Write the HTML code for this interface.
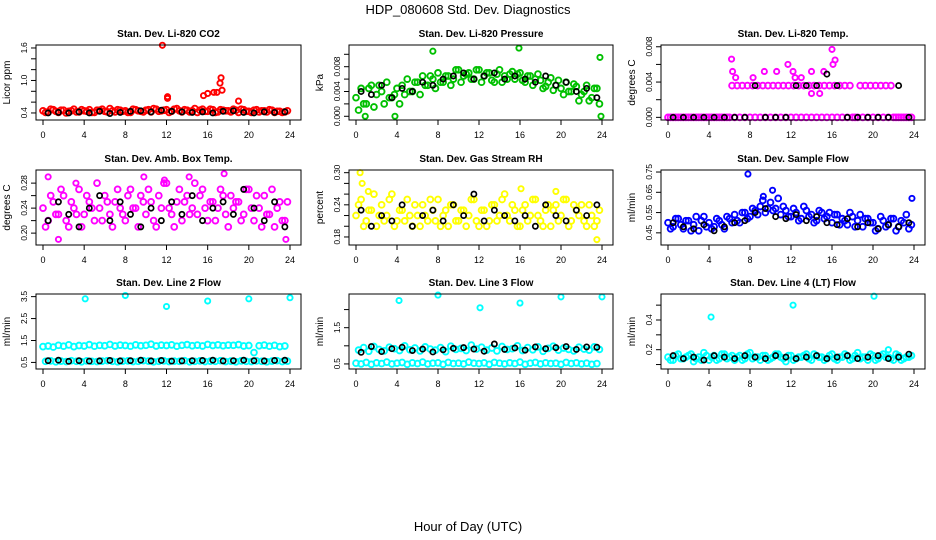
<!DOCTYPE html>
<html><head><meta charset="utf-8"><style>
html,body{margin:0;padding:0;background:#fff;}
svg{display:block;font-family:"Liberation Sans",sans-serif;}
</style></head><body>
<svg id="chart" width="936" height="540" viewBox="0 0 936 540">
<text x="468" y="14" text-anchor="middle" font-size="13">HDP_080608  Std. Dev. Diagnostics</text>
<text x="468" y="531" text-anchor="middle" font-size="13">Hour of Day (UTC)</text>
</svg>
<script>
const HX=[0,0.5,1,1.5,2,2.5,3,3.5,4,4.5,5,5.5,6,6.5,7,7.5,8,8.5,9,9.5,10,10.5,11,11.5,12,12.5,13,13.5,14,14.5,15,15.5,16,16.5,17,17.5,18,18.5,19,19.5,20,20.5,21,21.5,22,22.5,23,23.5];
const BX=[0.5,1.5,2.5,3.5,4.5,5.5,6.5,7.5,8.5,9.5,10.5,11.5,12.5,13.5,14.5,15.5,16.5,17.5,18.5,19.5,20.5,21.5,22.5,23.5];
const xTicks=[0,4,8,12,16,20,24];

const co2A=[0.44,0.42,0.46,0.41,0.45,0.43,0.47,0.42,0.44,0.46,0.41,0.45,0.43,0.48,0.42,0.45,0.44,0.41,0.46,0.43,0.45,0.42,0.47,0.44,0.46,0.43,0.48,0.42,0.45,0.44,0.41,0.47,0.43,0.46,0.42,0.45,0.44,0.47,0.41,0.46,0.43,0.45,0.42,0.44,0.46,0.41,0.43,0.42];
const co2B=[0.41,0.47,0.43,0.45,0.40,0.44,0.42,0.46,0.43,0.41,0.45,0.47,0.42,0.44,0.46,0.43,0.41,0.47,0.44,0.42,0.46,0.48,0.43,0.45,0.41,0.47,0.44,0.46,0.42,0.48,0.45,0.43,0.47,0.41,0.46,0.44,0.42,0.45,0.47,0.43,0.41,0.46,0.44,0.42,0.45,0.43,0.41,0.44];
const co2K=[0.40,0.41,0.40,0.42,0.40,0.43,0.39,0.41,0.43,0.44,0.42,0.45,0.43,0.42,0.41,0.42,0.40,0.43,0.44,0.41,0.40,0.42,0.41,0.42];
const co2OX=[11.6,12.1,12.1,15.6,16.0,16.6,16.9,17.2,17.3,17.4,19.0];
const co2OY=[1.65,0.70,0.67,0.72,0.76,0.78,0.78,0.95,1.05,0.82,0.62];

const prsA=[0.003,0.0045,0.002,0.005,0.0035,0.004,0.0055,0.003,0.0045,0.005,0.006,0.004,0.0055,0.0065,0.005,0.006,0.007,0.0055,0.0065,0.006,0.0075,0.0065,0.007,0.006,0.0075,0.0065,0.007,0.0055,0.0075,0.0065,0.0068,0.006,0.007,0.0055,0.0065,0.006,0.0058,0.0048,0.0062,0.005,0.0045,0.0055,0.004,0.0048,0.0035,0.005,0.003,0.0045];
const prsB=[0.001,0.002,0.0045,0.0015,0.005,0.002,0.003,0.0035,0.002,0.0035,0.004,0.0055,0.0035,0.005,0.0065,0.0045,0.0055,0.0065,0.005,0.0075,0.0055,0.0068,0.006,0.0075,0.0055,0.007,0.0058,0.0068,0.0055,0.006,0.0072,0.0068,0.0058,0.0065,0.005,0.0068,0.0045,0.0055,0.0042,0.0058,0.0035,0.004,0.0052,0.0025,0.004,0.0025,0.0045,0.002];
const prsK=[0.004,0.0035,0.005,0.003,0.0045,0.004,0.0055,0.005,0.006,0.0065,0.007,0.006,0.0065,0.007,0.006,0.0065,0.006,0.0055,0.0065,0.005,0.0055,0.004,0.0045,0.003];
const prsOX=[0.9,3.8,7.5,15.9,23.8,23.9];
const prsOY=[0.0,0.0,0.0105,0.011,0.0095,0.0];

const tmpA=[0,0,0,0,0,0,0,0,0,0,0,0,0,0,0,0,0,0,0,0,0,0,0,0,0,0,0,0,0,0,0,0,0,0,0,0,0,0,0,0,0,0,0,0,0,0,0,0];
const tmpB=[0,0,0,0,0,0,0,0,0,0,0,0,0.0036,0.0036,0.0036,0.0036,0.0036,0.0036,0.0036,0.0036,0.0036,0.0036,0.0036,0.0036,0.0036,0.0036,0.0036,0.0036,0.0036,0.0036,0.0036,0.0036,0.0036,0.0036,0.0036,0.0036,0,0.0036,0.0036,0.0036,0.0036,0.0036,0.0036,0.0036,0,0,0,0];
const tmpK=[0,0,0,0,0,0,0,0,0.0036,0,0,0,0.0036,0.0036,0.0036,0.0049,0.0036,0,0,0,0,0,0.0036,0];
const tmpOX=[6.2,6.3,6.6,8.3,9.4,10.6,11.7,12.2,12.4,13.0,14.0,14.0,14.8,15.2,16.0,16.1,16.3];
const tmpOY=[0.0066,0.0052,0.0045,0.0045,0.0052,0.0052,0.006,0.0052,0.0045,0.0045,0.0052,0.0027,0.0027,0.0052,0.0077,0.006,0.0065];

const ambA=[0.24,0.22,0.25,0.23,0.26,0.21,0.24,0.27,0.23,0.25,0.22,0.24,0.26,0.23,0.25,0.24,0.22,0.27,0.24,0.26,0.23,0.25,0.21,0.24,0.28,0.23,0.25,0.22,0.26,0.24,0.23,0.27,0.22,0.25,0.24,0.26,0.21,0.24,0.25,0.23,0.27,0.22,0.24,0.26,0.23,0.21,0.25,0.22];
const ambB=[0.21,0.26,0.23,0.27,0.22,0.25,0.23,0.21,0.26,0.24,0.28,0.22,0.25,0.21,0.27,0.23,0.26,0.24,0.21,0.25,0.27,0.22,0.26,0.28,0.24,0.21,0.27,0.25,0.23,0.28,0.26,0.24,0.25,0.22,0.27,0.23,0.26,0.25,0.22,0.27,0.24,0.26,0.21,0.23,0.27,0.24,0.22,0.25];
const ambK=[0.22,0.25,0.23,0.21,0.24,0.26,0.22,0.25,0.23,0.21,0.24,0.22,0.25,0.23,0.26,0.22,0.24,0.25,0.23,0.27,0.24,0.22,0.25,0.21];
const ambOX=[0.5,1.5,3.2,9.8,11.8,14.2,17.6,23.6];
const ambOY=[0.29,0.19,0.28,0.29,0.285,0.29,0.295,0.19];

const rhA=[0.22,0.25,0.21,0.23,0.20,0.24,0.22,0.26,0.21,0.23,0.25,0.20,0.22,0.24,0.21,0.23,0.25,0.22,0.20,0.24,0.21,0.23,0.22,0.25,0.20,0.23,0.21,0.24,0.22,0.26,0.21,0.23,0.20,0.24,0.22,0.25,0.21,0.23,0.20,0.24,0.22,0.25,0.21,0.23,0.24,0.20,0.22,0.21];
const rhB=[0.24,0.20,0.23,0.26,0.22,0.21,0.25,0.20,0.23,0.21,0.22,0.24,0.20,0.22,0.25,0.21,0.20,0.23,0.24,0.21,0.23,0.20,0.25,0.21,0.23,0.20,0.24,0.21,0.25,0.22,0.24,0.20,0.23,0.21,0.25,0.22,0.20,0.24,0.23,0.21,0.25,0.20,0.24,0.22,0.21,0.24,0.20,0.23];
const rhK=[0.23,0.20,0.22,0.21,0.24,0.20,0.22,0.23,0.21,0.24,0.22,0.26,0.21,0.23,0.22,0.21,0.22,0.20,0.24,0.22,0.21,0.23,0.22,0.24];
const rhOX=[0.4,0.6,1.2,16.1,19.5,23.5];
const rhOY=[0.30,0.28,0.265,0.27,0.265,0.175];

const sfA=[0.50,0.48,0.52,0.47,0.51,0.49,0.46,0.53,0.50,0.48,0.51,0.47,0.52,0.54,0.50,0.55,0.53,0.56,0.58,0.55,0.60,0.57,0.54,0.56,0.53,0.55,0.52,0.56,0.54,0.51,0.55,0.53,0.50,0.54,0.52,0.49,0.53,0.51,0.48,0.52,0.50,0.47,0.51,0.49,0.52,0.48,0.50,0.47];
const sfB=[0.47,0.52,0.49,0.51,0.46,0.53,0.51,0.48,0.47,0.52,0.49,0.53,0.50,0.51,0.55,0.52,0.57,0.54,0.61,0.57,0.56,0.62,0.58,0.53,0.57,0.51,0.58,0.53,0.50,0.56,0.52,0.55,0.54,0.49,0.51,0.55,0.48,0.54,0.52,0.50,0.46,0.53,0.48,0.52,0.46,0.51,0.54,0.49];
const sfK=[0.50,0.48,0.47,0.49,0.46,0.48,0.50,0.51,0.55,0.57,0.53,0.52,0.54,0.51,0.53,0.50,0.49,0.52,0.48,0.50,0.47,0.49,0.48,0.50];
const sfOX=[7.8,9.3,10.2,23.8];
const sfOY=[0.74,0.63,0.66,0.62];

const l2A=[1.22,1.25,1.20,1.28,1.24,1.30,1.22,1.27,1.25,1.31,1.24,1.28,1.26,1.32,1.25,1.29,1.27,1.24,1.30,1.26,1.28,1.33,1.25,1.29,1.27,1.30,1.24,1.28,1.31,1.26,1.29,1.25,1.32,1.27,1.30,1.26,1.29,1.28,1.31,1.25,1.27,0.95,1.26,1.29,1.24,1.28,1.22,1.25];
const l2B=[0.55,0.57,0.53,0.56,0.54,0.58,0.55,0.53,0.57,0.55,0.54,0.56,0.58,0.55,0.53,0.56,0.57,0.54,0.55,0.58,0.56,0.53,0.55,0.57,0.54,0.56,0.55,0.58,0.53,0.55,0.57,0.54,0.56,0.55,0.58,0.54,0.56,0.53,0.57,0.55,0.54,0.57,0.55,0.53,0.56,0.58,0.54,0.56];
const l2K=[0.58,0.60,0.55,0.58,0.56,0.57,0.59,0.57,0.58,0.60,0.57,0.59,0.56,0.57,0.58,0.59,0.60,0.57,0.58,0.60,0.58,0.57,0.59,0.60];
const l2OX=[4.1,8.0,12.0,16.0,20.0,24.0];
const l2OY=[3.4,3.55,3.05,3.3,3.4,3.45];

const l3A=[0.52,0.50,0.54,0.49,0.53,0.51,0.55,0.50,0.52,0.54,0.49,0.53,0.51,0.55,0.50,0.52,0.53,0.49,0.54,0.51,0.52,0.50,0.55,0.52,0.51,0.53,0.49,0.54,0.52,0.50,0.53,0.51,0.55,0.49,0.52,0.54,0.50,0.53,0.51,0.52,0.49,0.54,0.51,0.53,0.50,0.52,0.49,0.51];
const l3B=[0.88,0.95,0.85,0.98,0.90,0.86,0.96,0.92,0.87,1.00,0.89,0.94,0.86,0.97,0.91,0.88,0.95,0.84,0.99,0.90,0.93,0.87,1.02,0.91,0.96,0.88,0.94,0.86,0.98,0.90,0.92,1.00,0.87,0.95,0.89,0.97,0.85,0.93,0.99,0.88,0.94,0.90,0.86,0.96,0.91,0.88,0.97,0.90];
const l3K=[0.82,0.98,0.84,0.92,0.96,0.87,0.91,0.83,0.89,0.93,0.95,0.91,0.85,1.05,0.90,0.94,0.88,0.97,0.92,0.95,0.98,0.90,0.97,0.96];
const l3OX=[4.2,8.0,12.1,16.0,20.0,24.0];
const l3OY=[2.25,2.4,2.05,2.18,2.35,2.35];

const l4A=[0.15,0.13,0.17,0.14,0.16,0.12,0.15,0.18,0.13,0.16,0.14,0.17,0.15,0.13,0.16,0.14,0.18,0.15,0.13,0.16,0.14,0.17,0.15,0.12,0.16,0.14,0.15,0.17,0.13,0.16,0.15,0.14,0.17,0.13,0.15,0.16,0.14,0.18,0.15,0.13,0.16,0.14,0.17,0.15,0.13,0.16,0.14,0.15];
const l4B=[0.13,0.16,0.14,0.15,0.17,0.14,0.13,0.16,0.15,0.13,0.17,0.14,0.16,0.15,0.13,0.17,0.14,0.15,0.16,0.13,0.15,0.17,0.14,0.16,0.13,0.15,0.16,0.14,0.17,0.15,0.13,0.16,0.14,0.15,0.17,0.13,0.16,0.14,0.15,0.17,0.13,0.16,0.15,0.14,0.17,0.13,0.15,0.16];
const l4K=[0.16,0.14,0.15,0.13,0.16,0.15,0.14,0.16,0.15,0.14,0.16,0.15,0.14,0.15,0.16,0.14,0.15,0.16,0.14,0.15,0.16,0.14,0.15,0.17];
const l4OX=[4.2,12.2,20.1,21.5];
const l4OY=[0.42,0.5,0.56,0.2];

const panels=[
 {name:"co2",title:"Stan. Dev. Li-820 CO2",ylab:"Licor ppm",col:0,row:0,ylim:[0.27,1.655],yt:[0.4,0.6,0.8,1.0,1.2,1.4,1.6],yl:["0.4","","","1.0","","","1.6"],color:"#ff0000",a:co2A,b:co2B,k:co2K,ox:co2OX,oy:co2OY},
 {name:"pressure",title:"Stan. Dev. Li-820 Pressure",ylab:"kPa",col:1,row:0,ylim:[-0.0006,0.0115],yt:[0,0.002,0.004,0.006,0.008,0.010],yl:["0.000","","0.004","","0.008",""],color:"#00c000",a:prsA,b:prsB,k:prsK,ox:prsOX,oy:prsOY},
 {name:"temp",title:"Stan. Dev. Li-820 Temp.",ylab:"degrees C",col:2,row:0,ylim:[-0.0003,0.0082],yt:[0,0.002,0.004,0.006,0.008],yl:["0.000","","0.004","","0.008"],color:"#ff00ff",a:tmpA,b:tmpB,k:tmpK,ox:tmpOX,oy:tmpOY},
 {name:"amb-box-temp",title:"Stan. Dev. Amb. Box Temp.",ylab:"degrees C",col:0,row:1,ylim:[0.181,0.301],yt:[0.20,0.22,0.24,0.26,0.28],yl:["0.20","","0.24","","0.28"],color:"#ff00ff",a:ambA,b:ambB,k:ambK,ox:ambOX,oy:ambOY},
 {name:"gas-rh",title:"Stan. Dev. Gas Stream RH",ylab:"percent",col:1,row:1,ylim:[0.165,0.305],yt:[0.18,0.20,0.22,0.24,0.26,0.28,0.30],yl:["0.18","","","0.24","","","0.30"],color:"#ffff00",a:rhA,b:rhB,k:rhK,ox:rhOX,oy:rhOY},
 {name:"sample-flow",title:"Stan. Dev. Sample Flow",ylab:"ml/min",col:2,row:1,ylim:[0.39,0.76],yt:[0.45,0.55,0.65,0.75],yl:["0.45","0.55","0.65","0.75"],color:"#0000ff",a:sfA,b:sfB,k:sfK,ox:sfOX,oy:sfOY},
 {name:"line2-flow",title:"Stan. Dev. Line 2 Flow",ylab:"ml/min",col:0,row:2,ylim:[0.2,3.62],yt:[0.5,1.5,2.5,3.5],yl:["0.5","1.5","2.5","3.5"],color:"#00ffff",a:l2A,b:l2B,k:l2K,ox:l2OX,oy:l2OY},
 {name:"line3-flow",title:"Stan. Dev. Line 3 Flow",ylab:"ml/min",col:1,row:2,ylim:[0.36,2.43],yt:[0.5,1.0,1.5,2.0],yl:["0.5","","1.5",""],color:"#00ffff",a:l3A,b:l3B,k:l3K,ox:l3OX,oy:l3OY},
 {name:"line4-flow",title:"Stan. Dev. Line 4 (LT) Flow",ylab:"ml/min",col:2,row:2,ylim:[0.07,0.575],yt:[0.1,0.2,0.3,0.4,0.5],yl:["","0.2","","0.4",""],color:"#00ffff",a:l4A,b:l4B,k:l4K,ox:l4OX,oy:l4OY}
];

const NS="http://www.w3.org/2000/svg";
const svg=document.getElementById("chart");
const colBox=[[36,301,43,290],[349,613,356,602],[661,925,668,914]];
const rowBox=[[45,120],[170,245],[294,369]];
function mk(tag,attrs,parent){const e=document.createElementNS(NS,tag);for(const k in attrs)e.setAttribute(k,attrs[k]);(parent||svg).appendChild(e);return e;}

panels.forEach(p=>{
 const [bx0,bx1,x0,x24]=colBox[p.col];
 const [by0,by1]=rowBox[p.row];
 const g=mk("g",{});
 
 
 const xs=v=>x0+(v/24)*(x24-x0);
 const ys=v=>by1-(v-p.ylim[0])/(p.ylim[1]-p.ylim[0])*(by1-by0);
 const t=mk("text",{x:(bx0+bx1)/2,y:by0-8,"text-anchor":"middle","font-size":"10","font-weight":"bold"},g);
 t.textContent=p.title;
 
 
 const yl=mk("text",{x:0,y:0,"text-anchor":"middle","font-size":"10",transform:`translate(${bx0-26},${(by0+by1)/2}) rotate(-90)`},g);
 yl.textContent=p.ylab;
 
 
 const cg=mk("g",{fill:"none",stroke:p.color,"stroke-width":"1.9"},g);
 
 
 [p.a,p.b].forEach((arr,j)=>{
  arr.forEach((v,i)=>{
   const c=mk("circle",{cx:xs(HX[i]+j*0.25),cy:ys(v),r:2.9},cg);
   
   
  });
 });
 p.ox.forEach((xv,i)=>{
  const c=mk("circle",{cx:xs(xv),cy:ys(p.oy[i]),r:2.6},cg);
  
  
 });
 const kg=mk("g",{fill:"none",stroke:"#000","stroke-width":"1.7"},g);
 
 
 p.k.forEach((v,i)=>{
  const c=mk("circle",{cx:xs(BX[i]),cy:ys(v),r:2.6},kg);
  
  
 });
 const r=mk("rect",{x:bx0,y:by0,width:bx1-bx0,height:by1-by0,fill:"none",stroke:"#000","stroke-width":"1"},g);
 
 
 xTicks.forEach(tv=>{
  const X=xs(tv);
  mk("line",{x1:X,x2:X,y1:by1,y2:by1+5,stroke:"#000"},g);
  const tt=mk("text",{x:X,y:by1+18,"text-anchor":"middle","font-size":"9"},g);
  tt.textContent=tv;
  
  
 });
 p.yt.forEach((tv,i)=>{
  const Y=ys(tv);
  mk("line",{x1:bx0-5,x2:bx0,y1:Y,y2:Y,stroke:"#000"},g);
  if(p.yl[i]){
   const tt=mk("text",{x:0,y:0,"text-anchor":"middle","font-size":"8.5","letter-spacing":"-0.3",transform:`translate(${bx0-9},${Y}) rotate(-90)`},g);
   tt.textContent=p.yl[i];
   
   
  }
 });
});
</script>
</body></html>
